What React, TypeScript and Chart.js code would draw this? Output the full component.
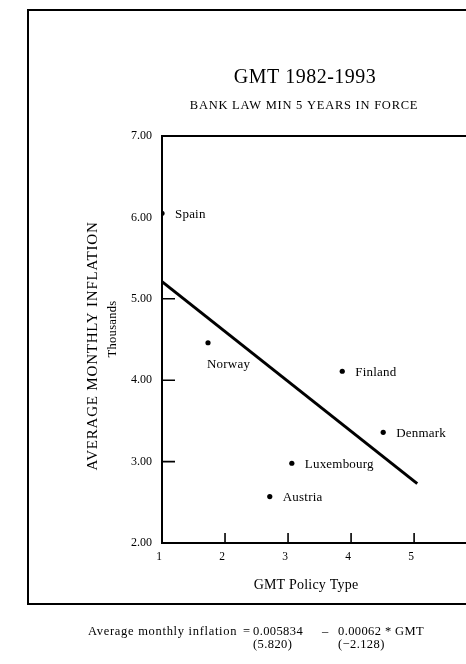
import React, { useEffect, useRef } from "react";
import { Chart, registerables } from "chart.js";

Chart.register(...registerables);

// ---- data ----
const countries = ["Spain", "Norway", "Finland", "Denmark", "Luxembourg", "Austria"];
const gmtValues = [1.0, 1.73, 3.86, 4.51, 3.06, 2.71];
const inflationValues = [6.05, 4.46, 4.11, 3.36, 2.98, 2.57];
const fitGmt = [1.0, 5.05];
const fitInflation = [5.21, 2.73];
const xTickValues = [1, 2, 3, 4, 5];
const yTickValues = [2, 3, 4, 5, 6, 7];
const innerYTicks = [3, 4, 5];
const labelBelow = ["Norway"];

const titleText = "GMT 1982-1993";
const subtitleText = "BANK LAW MIN 5 YEARS IN FORCE";
const yTitleText = "AVERAGE MONTHLY INFLATION";
const yUnitText = "Thousands";
const xTitleText = "GMT Policy Type";
const eqLeft = "Average monthly inflation";
const eqEquals = "=";
const eqConst = "0.005834";
const eqMinus = "\u2013";
const eqSlope = "0.00062 * GMT";
const eqConstT = "(5.820)";
const eqSlopeT = "(\u22122.128)";

const SERIF = '"Liberation Serif", "DejaVu Serif", serif';

function spacing(ctx: any, px: number) {
  try {
    ctx.letterSpacing = `${px}px`;
  } catch (e) {
    /* ignore */
  }
}

const decorPlugin = {
  id: "decor",
  afterDraw(chart: any) {
    const { ctx, chartArea: a } = chart;
    const xs = chart.scales.x;
    const ys = chart.scales.y;
    ctx.save();
    ctx.strokeStyle = "#000";
    ctx.fillStyle = "#000";

    // outer frame (right side is cut by the page)
    ctx.lineWidth = 2;
    ctx.beginPath();
    ctx.moveTo(chart.width + 2, 10);
    ctx.lineTo(28, 10);
    ctx.lineTo(28, 604);
    ctx.lineTo(chart.width + 2, 604);
    ctx.stroke();

    // plot top border and extend the x axis to the page edge
    ctx.beginPath();
    ctx.moveTo(a.left, a.top);
    ctx.lineTo(chart.width + 2, a.top);
    ctx.moveTo(a.right - 2, a.bottom);
    ctx.lineTo(chart.width + 2, a.bottom);
    ctx.stroke();

    // inner tick marks
    ctx.lineWidth = 1.6;
    ctx.beginPath();
    innerYTicks.forEach((v) => {
      const p = ys.getPixelForValue(v);
      ctx.moveTo(a.left, p);
      ctx.lineTo(a.left + 13, p);
    });
    xTickValues.slice(1).forEach((v) => {
      const p = xs.getPixelForValue(v);
      ctx.moveTo(p, a.bottom);
      ctx.lineTo(p, a.bottom - 10);
    });
    ctx.stroke();

    // point labels
    const meta = chart.getDatasetMeta(0);
    ctx.font = `13px ${SERIF}`;
    ctx.textBaseline = "middle";
    ctx.textAlign = "left";
    spacing(ctx, 0.2);
    meta.data.forEach((el: any, i: number) => {
      const name = countries[i];
      if (labelBelow.includes(name)) {
        ctx.fillText(name, el.x - 1, el.y + 22);
      } else {
        ctx.fillText(name, el.x + 13, el.y + 1);
      }
    });

    // titles
    ctx.textAlign = "center";
    ctx.textBaseline = "alphabetic";
    spacing(ctx, 0.5);
    ctx.font = `20px ${SERIF}`;
    ctx.fillText(titleText, 305, 83);
    spacing(ctx, 0.75);
    ctx.font = `12.5px ${SERIF}`;
    ctx.fillText(subtitleText, 304, 109);
    spacing(ctx, 0.2);
    ctx.font = `14px ${SERIF}`;
    ctx.fillText(xTitleText, 306, 589);

    // y axis title
    ctx.save();
    ctx.translate(97, 346);
    ctx.rotate(-Math.PI / 2);
    spacing(ctx, 0.8);
    ctx.font = `15px ${SERIF}`;
    ctx.fillText(yTitleText, 0, 0);
    ctx.restore();
    ctx.save();
    ctx.translate(116, 329);
    ctx.rotate(-Math.PI / 2);
    spacing(ctx, 0.3);
    ctx.font = `12.5px ${SERIF}`;
    ctx.fillText(yUnitText, 0, 0);
    ctx.restore();

    // regression equation
    ctx.textAlign = "left";
    ctx.font = `12.5px ${SERIF}`;
    spacing(ctx, 0.7);
    ctx.fillText(eqLeft, 88, 635);
    spacing(ctx, 0);
    ctx.fillText(eqEquals, 243, 635);
    spacing(ctx, 0.4);
    ctx.fillText(eqConst, 253, 635);
    spacing(ctx, 0);
    ctx.fillText(eqMinus, 322, 635);
    spacing(ctx, 0.4);
    ctx.fillText(eqSlope, 338, 635);
    ctx.fillText(eqConstT, 253, 648);
    ctx.fillText(eqSlopeT, 338, 648);
    spacing(ctx, 0);

    ctx.restore();
  },
};

export default function App() {
  const canvasRef = useRef<HTMLCanvasElement | null>(null);

  useEffect(() => {
    if (!canvasRef.current) return;
    const points = gmtValues.map((x, i) => ({ x, y: inflationValues[i] }));
    const fit = fitGmt.map((x, i) => ({ x, y: fitInflation[i] }));

    const chart = new Chart(canvasRef.current, {
      type: "scatter",
      data: {
        datasets: [
          {
            label: "Countries",
            data: points,
            pointRadius: 2.6,
            pointBorderWidth: 0,
            backgroundColor: "#000",
            borderColor: "#000",
          },
          {
            label: "Fit",
            data: fit,
            showLine: true,
            pointRadius: 0,
            borderWidth: 3,
            borderColor: "#000",
            backgroundColor: "#000",
          },
        ],
      },
      options: {
        responsive: false,
        animation: false,
        devicePixelRatio: 1,
        layout: { padding: { top: 136, right: 0, left: 0, bottom: 0 } },
        plugins: {
          legend: { display: false },
          tooltip: { enabled: false },
          title: { display: false },
        },
        scales: {
          x: {
            type: "linear",
            min: 1,
            max: 5.76,
            afterBuildTicks: (s: any) => {
              s.ticks = xTickValues.map((v) => ({ value: v }));
            },
            afterFit: (s: any) => {
              s.height = 121;
            },
            grid: { drawOnChartArea: false, drawTicks: false },
            border: { display: true, color: "#000", width: 2 },
            ticks: {
              padding: 7,
              labelOffset: -3,
              color: "#000",
              font: { family: SERIF, size: 11.5 },
              callback: (v: any) => String(v),
            },
          },
          y: {
            type: "linear",
            min: 2,
            max: 7,
            afterBuildTicks: (s: any) => {
              s.ticks = yTickValues.map((v) => ({ value: v }));
            },
            afterFit: (s: any) => {
              s.width = 162;
            },
            grid: { drawOnChartArea: false, drawTicks: false },
            border: { display: true, color: "#000", width: 2 },
            ticks: {
              padding: 10,
              color: "#000",
              font: { family: SERIF, size: 12 },
              callback: (v: any) => Number(v).toFixed(2),
            },
          },
        },
      },
      plugins: [decorPlugin],
    });
    return () => chart.destroy();
  }, []);

  return (
    <div style={{ position: "absolute", left: 0, top: 0, width: 466, height: 664, overflow: "hidden", background: "#fff" }}>
      <canvas ref={canvasRef} width={466} height={664} style={{ display: "block" }} />
    </div>
  );
}
